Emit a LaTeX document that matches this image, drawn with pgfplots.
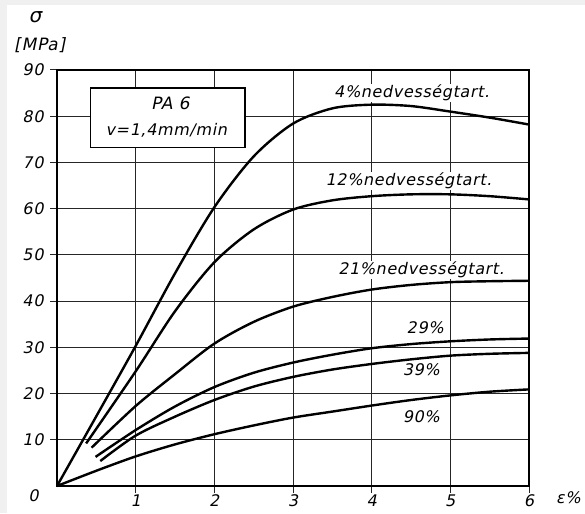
\documentclass[border=0pt]{standalone}
\usepackage{fontspec}
\setmainfont{DejaVu Sans}[FakeSlant=0.2, LetterSpace=4]
\usepackage{pgfplots}
\pgfplotsset{compat=1.18}
\begin{document}
\fontsize{16}{19}\selectfont
\begin{tikzpicture}
\useasboundingbox (0,0) rectangle (585pt,513pt);
\fill[gray!12] (0,0) rectangle (585pt,513pt);
\fill[white] (7pt,0) rectangle (585pt,508pt);
\begin{axis}[
  at={(57pt,27pt)}, anchor=south west,
  scale only axis, width=472pt, height=416pt,
  xmin=0, xmax=6, ymin=0, ymax=90,
  xtick={1,2,3,4,5,6}, ytick={10,20,30,40,50,60,70,80,90},
  grid=major, major grid style={black!85, line width=1pt},
  axis line style={line width=1.5pt},
  tick style={black!85, line width=1pt}, tick align=outside, major tick length=7pt,
  tick pos=left,
  ticklabel style={font=\fontsize{16}{19}\selectfont},
  xticklabel style={yshift=4pt},
  yticklabel style={xshift=-1pt},
  /pgf/number format/assume math mode=true,
  clip=false,
]
% 4%
\addplot[line width=2.4pt, smooth] coordinates {
(0,0) (0.5,15.1) (1,30.3) (1.5,46.0) (2,60.3) (2.5,71.3) (3,78.4) (3.5,81.7) (4,82.5) (4.5,82.2) (5,81.0) (5.5,79.7) (6,78.2)};
% 12%
\addplot[line width=2.4pt, smooth] coordinates {
(0.37,9.2) (1,24.8) (1.5,37.8) (2,48.4) (2.5,55.5) (3,59.8) (3.5,61.8) (4,62.7) (4.5,63.1) (5,63.1) (5.5,62.7) (6,62)};
% 21%
\addplot[line width=2.4pt, smooth] coordinates {
(0.44,8.3) (1,17.3) (1.5,24.2) (2,30.8) (2.5,35.5) (3,38.8) (3.5,40.9) (4,42.5) (4.5,43.5) (5,44.1) (5.5,44.3) (6,44.4)};
% 29%
\addplot[line width=2.4pt, smooth] coordinates {
(0.49,6.3) (1,12.1) (1.5,17.2) (2,21.4) (2.5,24.5) (3,26.7) (3.5,28.4) (4,29.8) (4.5,30.7) (5,31.3) (5.5,31.7) (6,31.9)};
% 39%
\addplot[line width=2.4pt, smooth] coordinates {
(0.55,5.4) (1,10.9) (1.5,15) (2,18.6) (2.5,21.5) (3,23.6) (3.5,25.2) (4,26.4) (4.5,27.4) (5,28.2) (5.5,28.6) (6,28.8)};
% 90%
\addplot[line width=2.4pt, smooth] coordinates {
(0,0) (0.5,3.3) (1,6.4) (1.5,9) (2,11.2) (2.5,13.1) (3,14.8) (3.5,16.1) (4,17.4) (4.5,18.6) (5,19.6) (5.5,20.4) (6,20.9)};

\draw[fill=white, line width=1.2pt] (axis cs:0.43,73.3) rectangle (axis cs:2.39,86.1);
\node[font=\fontsize{17}{20}\selectfont] at (axis cs:1.44,82.9) {PA 6};
\node at (axis cs:1.39,77.0) {v=1,4mm/min};

\node[fill=white, inner sep=1pt] at (axis cs:4.51,85.0) {4\%nedvességtart.};
\node[fill=white, inner sep=1pt] at (axis cs:4.47,66.0) {12\%nedvességtart.};
\node[fill=white, inner sep=1pt] at (axis cs:4.63,46.7) {21\%nedvességtart.};
\node[fill=white, inner sep=1pt] at (axis cs:4.68,34.2) {29\%};
\node[fill=white, inner sep=1pt] at (axis cs:4.63,25.1) {39\%};
\node[fill=white, inner sep=1pt] at (axis cs:4.63,15.1) {90\%};

\node[font=\fontsize{20}{22}\selectfont] at (axis cs:-0.28,101.5) {σ};
\node[font=\fontsize{17}{20}\selectfont] at (axis cs:-0.22,95.4) {[MPa]};
\node at (axis cs:-0.30,-2.2) {0};
\node at (axis cs:6.5,-2.6) {ε\%};
\end{axis}
\end{tikzpicture}
\end{document}
